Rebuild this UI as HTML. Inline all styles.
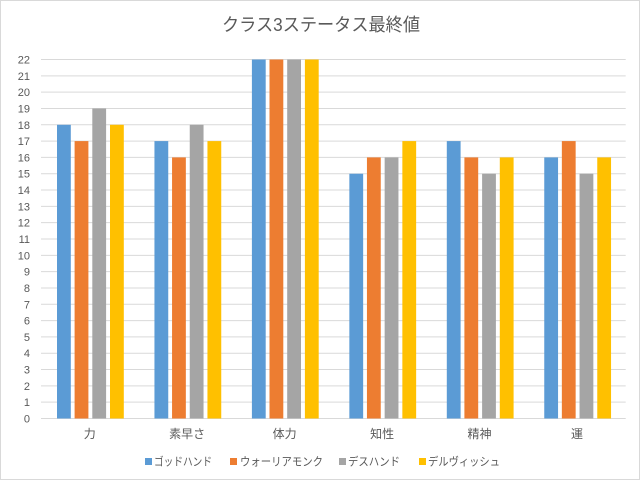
<!DOCTYPE html>
<html><head><meta charset="utf-8"><style>
html,body{margin:0;padding:0;background:#fff;}
svg{display:block;}
text{font-family:"Liberation Sans","Noto Sans CJK JP",sans-serif;fill:#595959;}
</style></head><body>
<svg width="641" height="481" viewBox="0 0 641 481" xmlns="http://www.w3.org/2000/svg">
<rect x="0.5" y="0.5" width="639" height="479" fill="#fff" stroke="#d9d9d9" stroke-width="1"/>
<text x="321" y="31" font-size="18" text-anchor="middle" textLength="198" lengthAdjust="spacingAndGlyphs">クラス3ステータス最終値</text>
<g id="grid" stroke="#d9d9d9" stroke-width="1"></g>
<g id="ylab" font-size="11" text-anchor="end"></g>
<g id="bars"></g>
<g id="xlab" font-size="12" text-anchor="middle"></g>
<g font-size="11.5">
<rect x="145" y="458" width="7" height="7" fill="#5B9BD5"/>
<text x="154" y="465.5" textLength="58" lengthAdjust="spacingAndGlyphs">ゴッドハンド</text>
<rect x="230" y="458" width="7" height="7" fill="#ED7D31"/>
<text x="240" y="465.5" textLength="83" lengthAdjust="spacingAndGlyphs">ウォーリアモンク</text>
<rect x="339" y="458" width="7" height="7" fill="#A5A5A5"/>
<text x="348" y="465.5" textLength="52" lengthAdjust="spacingAndGlyphs">デスハンド</text>
<rect x="419" y="458" width="7" height="7" fill="#FFC000"/>
<text x="428" y="465.5" textLength="72" lengthAdjust="spacingAndGlyphs">デルヴィッシュ</text>
</g>
</svg>
<script>
(function(){
var ns="http://www.w3.org/2000/svg";
function el(t,a,txt){var e=document.createElementNS(ns,t);for(var k in a)e.setAttribute(k,a[k]);if(txt!==undefined)e.textContent=txt;return e;}
var y0=418.5,sp=359/22,L=41,R=625.7;
var g=document.getElementById('grid'),yl=document.getElementById('ylab');
for(var v=0;v<=22;v++){var y=y0-v*sp;g.appendChild(el('line',{x1:L,x2:R,y1:y,y2:y}));yl.appendChild(el('text',{x:30,y:y+4},String(v)));}
var data=[[18,17,19,18],[17,16,18,17],[22,22,22,22],[15,16,16,17],[17,16,15,16],[16,17,15,16]];
var cats=["力","素早さ","体力","知性","精神","運"];
var cols=["#5B9BD5","#ED7D31","#A5A5A5","#FFC000"];
var offs=[16,33.6,51.3,69];
var pw=(R-L)/6,b=document.getElementById('bars'),xl=document.getElementById('xlab');
for(var i=0;i<6;i++){var gx=L+pw*i;
for(var s=0;s<4;s++){var h=data[i][s]*sp;b.appendChild(el('rect',{x:gx+offs[s],y:y0-0.5-h+0.5,width:13.8,height:h,fill:cols[s]}));}
xl.appendChild(el('text',{x:gx+pw/2,y:438},cats[i]));}
})();
</script>
</body></html>
